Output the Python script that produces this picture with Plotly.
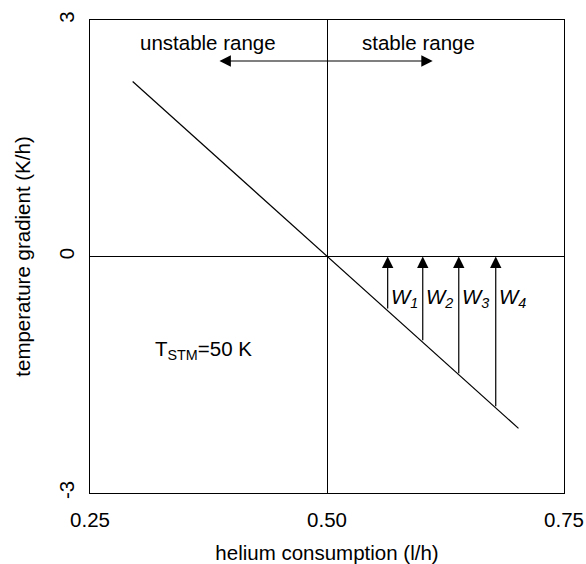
import plotly.graph_objects as go

# Data
line_x = [0.295, 0.702]
line_y = [2.22, -2.18]

w_x = [0.564, 0.601, 0.639, 0.678]
w_bottom = [-0.68, -1.08, -1.50, -1.92]
w_top = [0.0, 0.0, 0.0, 0.0]
w_labels = ["W<sub>1</sub>", "W<sub>2</sub>", "W<sub>3</sub>", "W<sub>4</sub>"]

range_arrow_x = [0.385, 0.6115]
range_arrow_y = 2.48
range_texts = ["unstable range", "stable range"]
range_text_x = [0.374, 0.597]
range_text_y = 2.71

tstm_x = 0.316
tstm_y = -1.18

x_ticks = [0.25, 0.50, 0.75]
x_ticktext = ["0.25", "0.50", "0.75"]
y_ticks = [-3, 0, 3]
y_ticktext = ["-3", "0", "3"]

FONT = "Liberation Sans, Arial, sans-serif"
FS = 20.5

fig = go.Figure()
fig.add_trace(go.Scatter(x=line_x, y=line_y, mode="lines",
                         line=dict(color="black", width=1.2),
                         showlegend=False, hoverinfo="skip"))

annotations = []
for xv, yb, yt, lab in zip(w_x, w_bottom, w_top, w_labels):
    annotations.append(dict(x=xv, y=yt, ax=xv, ay=yb, xref="x", yref="y",
                            axref="x", ayref="y", text="", showarrow=True,
                            arrowhead=2, arrowsize=1.9, arrowwidth=1.2,
                            arrowcolor="black", standoff=0))
    annotations.append(dict(x=xv, y=-0.53, xref="x", yref="y",
                            text="<i>" + lab + "</i>", showarrow=False,
                            xanchor="left", yanchor="middle", xshift=1,
                            font=dict(family=FONT, size=FS, color="black")))

# double-headed range arrow
annotations.append(dict(x=range_arrow_x[1], y=range_arrow_y,
                        ax=range_arrow_x[0], ay=range_arrow_y,
                        xref="x", yref="y", axref="x", ayref="y", text="",
                        showarrow=True, arrowhead=2, startarrowhead=2,
                        arrowside="end+start", arrowsize=1.9, startarrowsize=1.9,
                        arrowwidth=1.2, arrowcolor="black", standoff=0,
                        startstandoff=0))
for t, xv in zip(range_texts, range_text_x):
    annotations.append(dict(x=xv, y=range_text_y, xref="x", yref="y", text=t,
                            showarrow=False, xanchor="center", yanchor="middle",
                            font=dict(family=FONT, size=FS, color="black")))

annotations.append(dict(x=tstm_x, y=tstm_y, xref="x", yref="y",
                        text="T<sub>STM</sub>=50 K", showarrow=False,
                        xanchor="left", yanchor="middle",
                        font=dict(family=FONT, size=FS, color="black")))

fig.update_layout(
    width=586, height=564,
    margin=dict(l=90, r=22, t=20, b=71),
    paper_bgcolor="white", plot_bgcolor="white",
    font=dict(family=FONT, size=FS, color="black"),
    annotations=annotations,
    showlegend=False,
)
fig.update_xaxes(range=[0.25, 0.75], tickvals=x_ticks, ticktext=x_ticktext,
                 showline=True, mirror=True, linecolor="black", linewidth=1.2,
                 showgrid=True, gridcolor="black", gridwidth=1.2,
                 zeroline=False, ticks="outside", ticklen=8,
                 tickcolor="rgba(0,0,0,0)",
                 tickfont=dict(family=FONT, size=FS, color="black"),
                 title=dict(text="helium consumption (l/h)", standoff=16,
                            font=dict(family=FONT, size=FS, color="black")),
                 automargin=False)
fig.update_yaxes(range=[-3, 3], tickvals=y_ticks, ticktext=y_ticktext,
                 tickangle=-90,
                 showline=True, mirror=True, linecolor="black", linewidth=1.2,
                 showgrid=True, gridcolor="black", gridwidth=1.2,
                 zeroline=False, ticks="outside", ticklen=7,
                 tickcolor="rgba(0,0,0,0)",
                 tickfont=dict(family=FONT, size=FS, color="black"),
                 title=dict(text="temperature gradient (K/h)", standoff=18,
                            font=dict(family=FONT, size=FS, color="black")),
                 automargin=False)

fig.write_html("out.html", config={"displayModeBar": False},
               post_script="document.body.style.margin='0';document.body.style.overflow='hidden';")
